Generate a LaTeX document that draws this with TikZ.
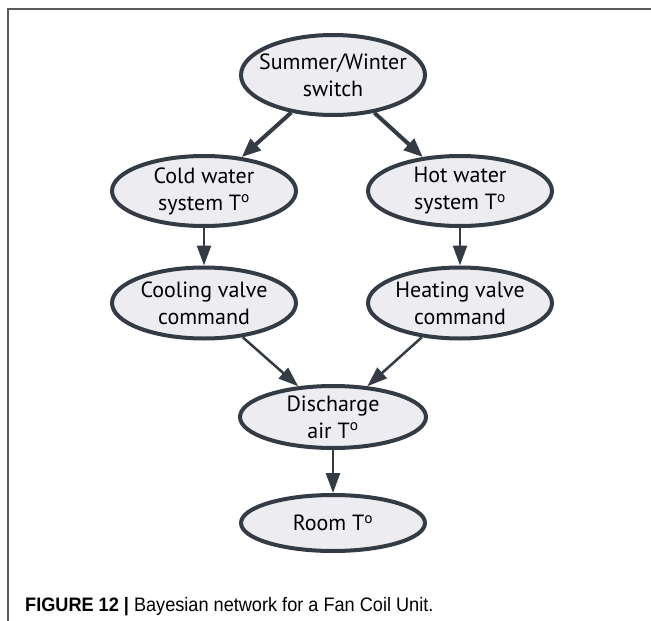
\documentclass[tikz,border=0pt]{standalone}
\usepackage{fontspec}
\usetikzlibrary{shapes.geometric,arrows.meta}
\newfontfamily\nodefont{PT Sans}
\newfontfamily\capfont[FakeStretch=0.93]{Liberation Sans}
\definecolor{edgecol}{HTML}{343B45}
\definecolor{nodefill}{HTML}{EDEDF1}
\definecolor{framecol}{HTML}{5A5A5A}
\newcommand{\degT}{T\textsuperscript{o}}
\tikzset{
  bnode/.style={ellipse, draw=edgecol, fill=nodefill, line width=4pt,
    minimum width=184pt, inner sep=0pt},
  bntext/.style={font=\nodefont\fontsize{22}{27}\selectfont, align=center, text=black},
  heavy/.style={draw=edgecol, line width=4pt,
    -{Triangle[length=19pt,width=15pt]}},
  light/.style={draw=edgecol, line width=2.5pt,
    -{Triangle[length=20pt,width=14pt]}},
}
\begin{document}
\begin{tikzpicture}[x=1pt,y=-1pt]
  \path[use as bounding box] (0,0) rectangle (651,621);
  % open frame: left and top rules
  \coordinate (fbl) at (8,621);
  \coordinate (ftl) at (8,9);
  \coordinate (ftr) at (651,9);
  \draw[framecol, line width=1.2pt] (fbl) -- (ftl) -- (ftr);

  % network nodes
  \node[bnode, minimum height=80pt,
    label={[bntext]center:Summer/Winter\\switch}] (sw) at (333,75) {};
  \node[bnode, minimum height=70pt,
    label={[bntext]center:Cold water\\system \degT}] (cold) at (204,191) {};
  \node[bnode, minimum height=70pt,
    label={[bntext]center:Hot water\\system \degT}] (hot) at (460,191) {};
  \node[bnode, minimum height=71pt,
    label={[bntext]center:Cooling valve\\command}] (cool) at (204,303) {};
  \node[bnode, minimum height=71pt,
    label={[bntext]center:Heating valve\\command}] (heat) at (460,303) {};
  \node[bnode, minimum height=62pt, minimum width=186pt,
    label={[bntext]center:Discharge\\air \degT}] (dis) at (333,417) {};
  \node[bnode, minimum height=56pt,
    label={[bntext]center:Room \degT}] (room) at (333,523) {};

  % dependencies
  \draw[heavy] (sw) -- (cold);
  \draw[heavy] (sw) -- (hot);
  \draw[light] (cold) -- (cool);
  \draw[light] (hot) -- (heat);
  \draw[light] (cool) -- (dis);
  \draw[light] (heat) -- (dis);
  \draw[light] (dis) -- (room);

  % caption
  \node[anchor=base west, inner sep=0pt, font=\capfont\fontsize{19.5}{22}\selectfont]
    (cap) at (25,611) {\textbf{FIGURE 12 |} Bayesian network for a Fan Coil Unit.};
\end{tikzpicture}
\end{document}
